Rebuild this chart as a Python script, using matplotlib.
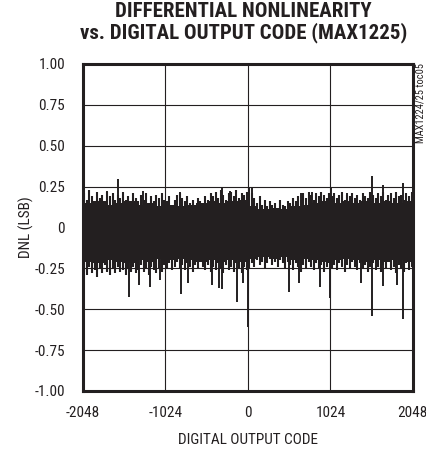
import numpy as np
import matplotlib
matplotlib.use("Agg")
import matplotlib.pyplot as plt

# DNL vs code at 32-code resolution
# (upper / lower fringe of the trace per bin)
dnl_hi = [0.21, 0.17, 0.23, 0.19, 0.15, 0.22, 0.18, 0.20, 0.16, 0.22, 0.19, 0.21, 0.17, 0.20, 0.18, 0.22,
          0.17, 0.19, 0.15, 0.21, 0.18, 0.16, 0.20, 0.17, 0.21, 0.15, 0.19, 0.16, 0.20, 0.18, 0.21, 0.17,
          0.16, 0.19, 0.14, 0.17, 0.20, 0.21, 0.18, 0.16, 0.19, 0.15, 0.17, 0.14, 0.18, 0.16, 0.15, 0.19,
          0.17, 0.21, 0.19, 0.22, 0.18, 0.23, 0.20, 0.17, 0.21, 0.22, 0.19, 0.23, 0.18, 0.21, 0.20, 0.22,
          0.24, 0.21, 0.18, 0.15, 0.19, 0.14, 0.17, 0.13, 0.16, 0.14, 0.15, 0.12, 0.17, 0.14, 0.13, 0.16,
          0.15, 0.18, 0.16, 0.19, 0.17, 0.21, 0.18, 0.22, 0.20, 0.17, 0.21, 0.19, 0.22, 0.20, 0.18, 0.21,
          0.19, 0.21, 0.18, 0.20, 0.22, 0.17, 0.20, 0.19, 0.21, 0.18, 0.20, 0.17, 0.21, 0.19, 0.18, 0.22,
          0.20, 0.18, 0.21, 0.19, 0.22, 0.17, 0.20, 0.21, 0.18, 0.22, 0.19, 0.20, 0.17, 0.21, 0.19, 0.22]
dnl_lo = [-0.27, -0.29, -0.24, -0.28, -0.26, -0.30, -0.25, -0.28, -0.23, -0.27, -0.29, -0.25, -0.28, -0.24, -0.27, -0.26,
          -0.29, -0.25, -0.27, -0.24, -0.28, -0.26, -0.23, -0.27, -0.25, -0.29, -0.24, -0.26, -0.28, -0.25, -0.27, -0.23,
          -0.25, -0.22, -0.26, -0.24, -0.21, -0.25, -0.23, -0.26, -0.22, -0.24, -0.27, -0.23, -0.25, -0.21, -0.24, -0.26,
          -0.23, -0.27, -0.24, -0.26, -0.22, -0.25, -0.28, -0.23, -0.26, -0.24, -0.27, -0.22, -0.25, -0.28, -0.24, -0.26,
          -0.25, -0.22, -0.24, -0.20, -0.23, -0.21, -0.25, -0.22, -0.19, -0.23, -0.21, -0.24, -0.20, -0.22, -0.25, -0.21,
          -0.23, -0.26, -0.22, -0.24, -0.27, -0.23, -0.25, -0.21, -0.24, -0.26, -0.22, -0.25, -0.23, -0.27, -0.24, -0.22,
          -0.25, -0.23, -0.26, -0.22, -0.24, -0.27, -0.23, -0.25, -0.21, -0.24, -0.26, -0.22, -0.25, -0.23, -0.27, -0.24,
          -0.22, -0.26, -0.24, -0.27, -0.23, -0.25, -0.21, -0.26, -0.24, -0.28, -0.23, -0.25, -0.27, -0.22, -0.26, -0.24]

# solid core of the trace, 128-code bins
core_hi = [0.15, 0.16, 0.14, 0.15, 0.16, 0.14, 0.15, 0.13, 0.14, 0.13, 0.14, 0.15, 0.16, 0.15, 0.16, 0.17,
           0.13, 0.11, 0.12, 0.11, 0.13, 0.14, 0.15, 0.16, 0.15, 0.16, 0.15, 0.16, 0.15, 0.16, 0.15, 0.16]
core_lo = [-0.21, -0.22, -0.20, -0.21, -0.22, -0.20, -0.21, -0.19, -0.20, -0.19, -0.20, -0.21, -0.20, -0.21, -0.20, -0.21,
           -0.19, -0.18, -0.19, -0.18, -0.20, -0.19, -0.20, -0.21, -0.20, -0.19, -0.20, -0.21, -0.20, -0.21, -0.20, -0.21]

# isolated spikes (code, DNL)
spike_up_code = [-1753, -1612, -1305, -840, -321, -218, 10, 52, 654, 799, 1027, 1235, 1534, 1671, 1920]
spike_up_val = [0.225, 0.295, 0.225, 0.219, 0.24, 0.225, 0.25, 0.245, 0.21, 0.22, 0.245, 0.21, 0.315, 0.26, 0.27]
spike_dn_code = [-1472, -1347, -1214, -1089, -832, -750, -446, -364, -321, -134, -60, -3,
                 508, 632, 894, 1018, 1401, 1534, 1671, 1849, 1920]
spike_dn_val = [-0.423, -0.352, -0.362, -0.32, -0.407, -0.34, -0.352, -0.372, -0.376, -0.453, -0.34, -0.607,
                -0.392, -0.34, -0.362, -0.429, -0.34, -0.541, -0.36, -0.35, -0.56]

xticks = [-2048, -1024, 0, 1024, 2048]
xtick_labels = ["-2048", "-1024", "0", "1024", "2048"]
yticks = [-1.0, -0.75, -0.5, -0.25, 0, 0.25, 0.5, 0.75, 1.0]
ytick_labels = ["-1.00", "-0.75", "-0.50", "-0.25", "0", "0.25", "0.50", "0.75", "1.00"]

ink = "#231f20"
narrow = ["Roboto Condensed", "Archivo Narrow", "Barlow Condensed", "Sofia Sans Condensed", "DejaVu Sans"]

fig = plt.figure(figsize=(4.27, 4.66), dpi=100)
ax = fig.add_axes([0.1944, 0.161, 0.7726, 0.7017])

fine_x = -2048 + 32 * (np.arange(len(dnl_hi)) + 0.5)
core_x = -2048 + 128 * np.arange(len(core_hi) + 1)

ax.stairs(core_hi, core_x, baseline=core_lo, fill=True, color=ink, lw=0)
ax.vlines(fine_x, dnl_lo, dnl_hi, color=ink, lw=1.5)
ax.vlines(spike_up_code, 0, spike_up_val, color=ink, lw=1.4)
ax.vlines(spike_dn_code, 0, spike_dn_val, color=ink, lw=1.4)

ax.set_xlim(-2048, 2048)
ax.set_ylim(-1, 1)
ax.set_xticks(xticks)
ax.set_xticklabels(xtick_labels, family=narrow, fontsize=11, color=ink)
ax.set_yticks(yticks)
ax.set_yticklabels(ytick_labels, family=narrow, fontsize=11, color=ink)
ax.tick_params(length=0, pad=11)
ax.tick_params(axis="y", pad=13)
ax.grid(True, color=ink, lw=0.8)
ax.set_axisbelow(True)
for s in ax.spines.values():
    s.set_linewidth(2.2)
    s.set_color(ink)

ax.set_xlabel("DIGITAL OUTPUT CODE", family=narrow, fontsize=11, color=ink, labelpad=9)
ax.set_ylabel("DNL (LSB)", family=narrow, fontsize=11, color=ink, labelpad=0)

fig.text(0.57, 0.995, "DIFFERENTIAL NONLINEARITY\nvs. DIGITAL OUTPUT CODE (MAX1225)",
         ha="center", va="top", family=narrow, fontweight="heavy", fontsize=15,
         color=ink, linespacing=1.05)
fig.text(0.984, 0.865, "MAX1224/25 toc05", rotation=90, ha="center", va="top",
         family=narrow, fontsize=7.5, color=ink)

fig.savefig("out.png", dpi=100)
